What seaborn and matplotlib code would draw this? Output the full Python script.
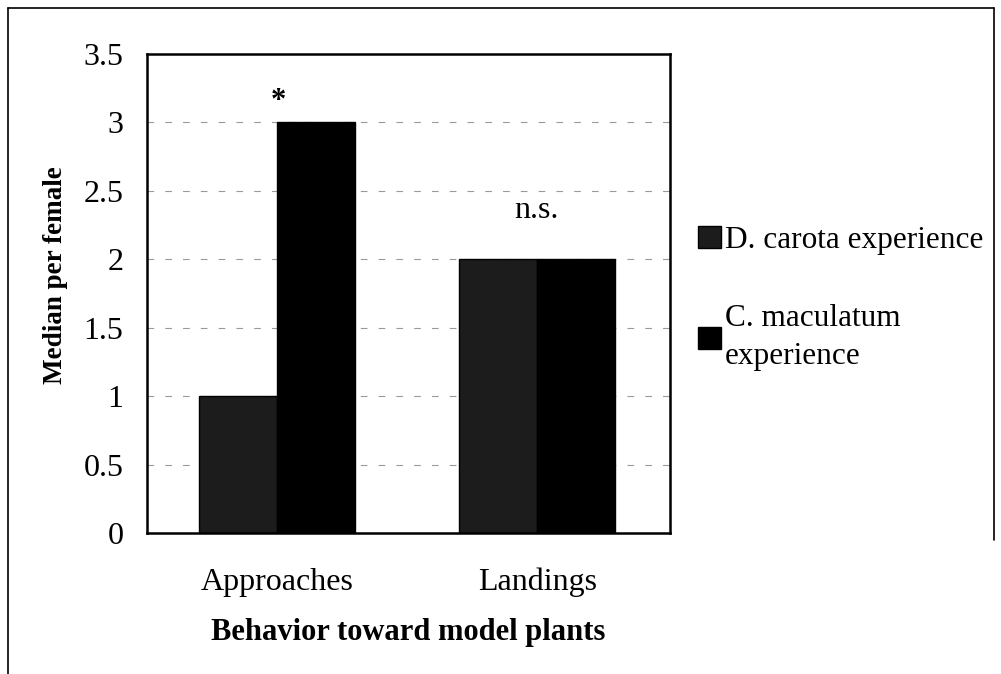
import pandas as pd
import numpy as np
import seaborn as sns
import matplotlib.pyplot as plt
from matplotlib.lines import Line2D

# Дані з графіка
behaviors = ["Approaches", "Landings"]
experience = ["D. carota experience", "C. maculatum\nexperience"]
d_carota = [1, 2]
c_maculatum = [3, 2]
marks = ["*", "n.s."]
mark_y = [3.15, 2.30]

df = pd.DataFrame({
    "behavior": behaviors * 2,
    "group": [experience[0]] * 2 + [experience[1]] * 2,
    "median": d_carota + c_maculatum,
})

sns.set_style("white")
plt.rcParams["font.family"] = ["Liberation Serif", "DejaVu Serif"]
plt.rcParams["text.color"] = "black"
plt.rcParams["axes.labelcolor"] = "black"
plt.rcParams["xtick.color"] = "black"
plt.rcParams["ytick.color"] = "black"

fig = plt.figure(figsize=(10.01, 6.74), dpi=100)
ax = fig.add_axes([147 / 1001, 1 - 533 / 674, 523 / 1001, 479 / 674])

sns.barplot(data=df, x="behavior", y="median", hue="group",
            palette=["#1c1c1c", "#000000"], width=0.6, ax=ax,
            edgecolor="black", linewidth=1)

ax.set_ylim(0, 3.5)
ax.set_xlim(-0.5, 1.51)
ax.set_yticks(np.arange(0, 3.51, 0.5))
ax.set_yticklabels(["0", "0.5", "1", "1.5", "2", "2.5", "3", "3.5"])
ax.tick_params(axis="both", labelsize=23, length=0, pad=17)
ax.tick_params(axis="x", pad=25)
ax.yaxis.grid(True, color="#9a9a9a", linestyle=(0, (6, 10)), linewidth=0.8)
ax.set_axisbelow(True)
for s in ax.spines.values():
    s.set_visible(True)
    s.set_color("black")
    s.set_linewidth(1.8)

ax.set_xlabel("Behavior toward model plants", fontsize=22, fontweight="bold", labelpad=15)
ax.set_ylabel("Median per female", fontsize=19.5, fontweight="bold", labelpad=11)
ax.yaxis.label.set_y(0.538)

ax.text(0.005, mark_y[0], marks[0], ha="center", va="center", fontsize=22, fontweight="bold")
ax.text(0.995, mark_y[1], marks[1], ha="center", va="baseline", fontsize=23)

leg = ax.legend(loc="upper left", bbox_to_anchor=(698 / 1001, 1 - 226 / 674),
                bbox_transform=fig.transFigure, frameon=False,
                fontsize=22.5, handlelength=0.72, handleheight=0.72,
                handletextpad=0.15, labelspacing=1.58, borderaxespad=0, borderpad=0)
plt.setp(leg.get_texts(), linespacing=1.4)

# рамка навколо рисунка (як у скані): ліва, верхня, права (обрізана)
W, H = 1001, 674
for xs, ys in [([8, 8], [8, 674]), ([8, 994], [8, 8]), ([994, 994], [8, 540])]:
    fig.add_artist(Line2D([x / W for x in xs], [1 - y / H for y in ys],
                          transform=fig.transFigure, color="black", linewidth=1.2))

fig.savefig("out.png", dpi=100)
